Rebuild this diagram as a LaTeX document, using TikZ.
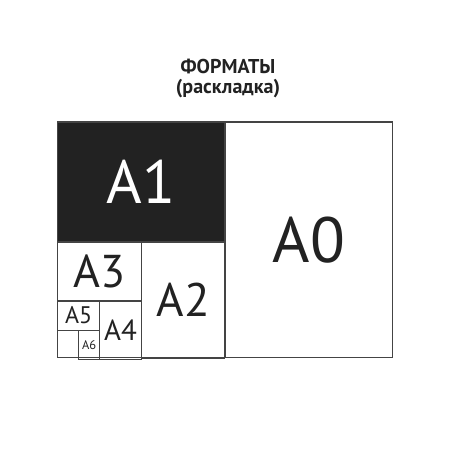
\documentclass[tikz,border=0pt]{standalone}
\usepackage{fontspec}
\setmainfont{PT Sans}
\usetikzlibrary{positioning}
\definecolor{inkgray}{HTML}{222222}
\definecolor{linegray}{HTML}{444444}
\begin{document}
\begin{tikzpicture}[
      x=1pt, y=-1pt,
      sheet/.style={
        rectangle,
        draw=linegray,
        line width=0.8pt,
        inner sep=0pt,
        text=inkgray,
        text centered
      }
    ]
    \useasboundingbox[fill=white] (0,0) rectangle (450,450);

    % Title
    \node[align=center, font=\bfseries\fontsize{20}{19.5}\selectfont, text=inkgray, anchor=base] (Title) at (228,93) {ФОРМАТЫ\\(раскладка)};

    % Big sheets
    \node[sheet, minimum width=167, minimum height=235, anchor=north west, font=\fontsize{64}{64}\selectfont] (A0) at (225,122) {A0};
    \node[sheet, minimum width=167, minimum height=119, anchor=north east, fill=inkgray, text=white, font=\fontsize{61}{61}\selectfont] (A1) at (A0.north west) {A1};
    \node[sheet, minimum width=83, minimum height=116, anchor=north east, font=\fontsize{47}{47}\selectfont] (A2) at (A1.south east) {A2};

    % Small sheets
    \node[sheet, minimum width=84, minimum height=58, anchor=north west, font=\fontsize{46}{46}\selectfont] (A3) at (A1.south west) {A3};
    \node[sheet, minimum width=42, minimum height=58, anchor=north east, font=\fontsize{29}{29}\selectfont] (A4) at (A3.south east) {A4};
    \node[sheet, minimum width=42, minimum height=29, anchor=north west, font=\fontsize{24}{24}\selectfont] (A5) at (A3.south west) {A5};
    \node[sheet, minimum width=21, minimum height=29, anchor=north east, font=\fontsize{12.5}{12.5}\selectfont, text depth=-4pt] (A6) at (A5.south east) {A6};

    % Outer frame
    \draw[draw=linegray, line width=1.1pt] (A1.north west) rectangle (A0.south east);
    \end{tikzpicture}
\end{document}
